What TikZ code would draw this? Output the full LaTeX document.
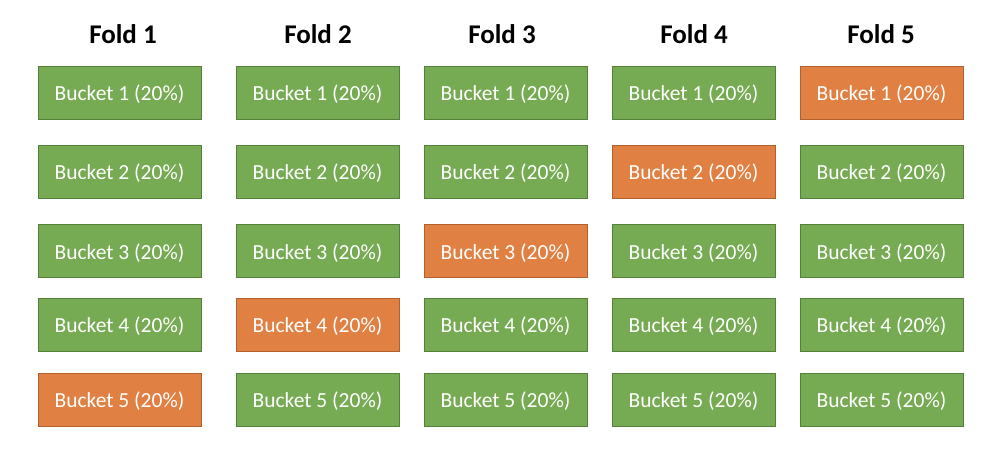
\documentclass[tikz,border=0pt]{standalone}
\usepackage{fontspec}
\setmainfont{Carlito}
\definecolor{bucketgreen}{RGB}{118,170,83}
\definecolor{greenline}{RGB}{86,128,58}
\definecolor{bucketorange}{RGB}{225,128,67}
\definecolor{orangeline}{RGB}{176,96,45}

\begin{document}
\begin{tikzpicture}[x=1pt,y=-1pt,
    bucket/.style={draw=greenline, fill=bucketgreen, line width=0.8pt,
      minimum width=163pt, minimum height=53pt, inner sep=0pt,
      text height=16pt, text depth=0pt,
      text=white, font=\fontsize{21.5}{24}\selectfont},
    testbucket/.style={bucket, draw=orangeline, fill=bucketorange},
    foldtitle/.style={anchor=base, font=\fontsize{27}{30}\selectfont\bfseries}]
    \useasboundingbox (0,0) rectangle (1007,466);
    % One column per fold, the held-out bucket in orange
    \foreach \f/\x/\hx in {1/119.5/123,2/317.5/318,3/505.5/502,4/693.5/694,5/881.5/881} {
        \node[foldtitle] (fold\f) at (\hx,43) {Fold \f};
        \foreach \b/\y in {1/92.5,2/171.5,3/251,4/324.5,5/399.5} {
            \pgfmathtruncatemacro{\test}{6-\f}
            \ifnum\b=\test \def\kind{testbucket}\else \def\kind{bucket}\fi
            \node[\kind] (b\f\b) at (\x,\y) {Bucket \b\ (20\%)};
        }
    }
\end{tikzpicture}
\end{document}
